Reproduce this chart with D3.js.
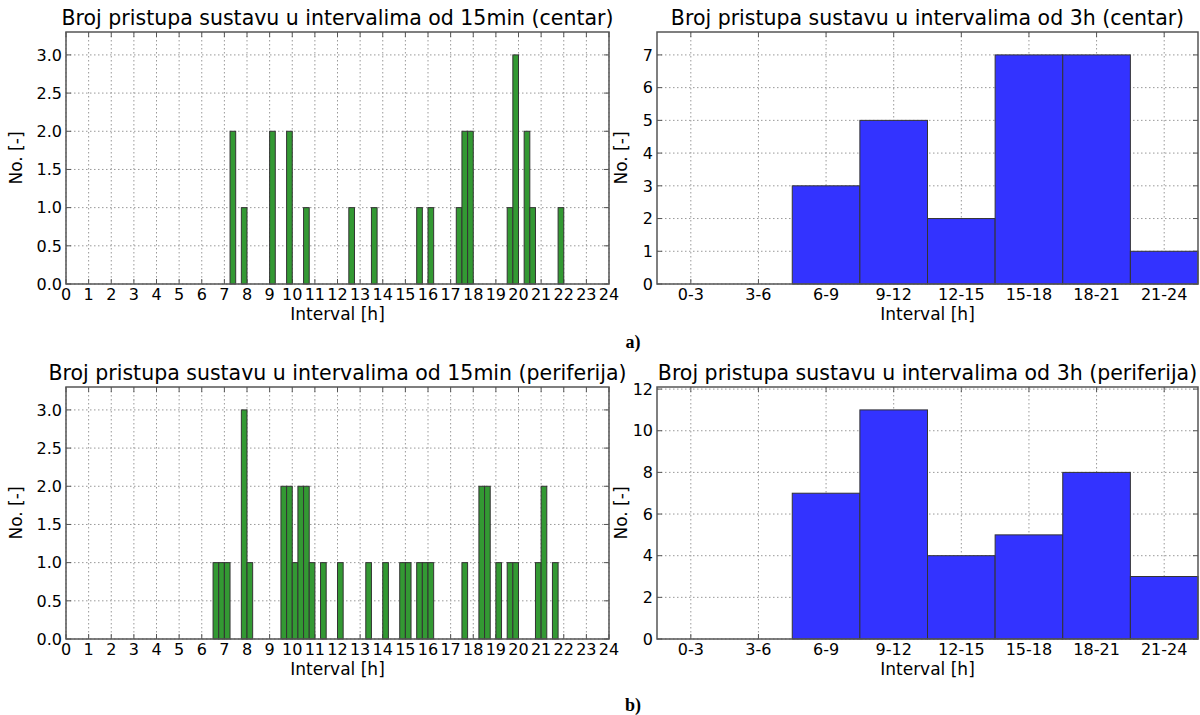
<!DOCTYPE html>
<html>
<head>
<meta charset="utf-8">
<script src="https://cdnjs.cloudflare.com/ajax/libs/d3/7.8.5/d3.min.js"></script>
<style>
  body { margin: 0; background: #fff; }
  svg { font-family: "DejaVu Sans", sans-serif; }
</style>
</head>
<body>
<div id="chart"></div>
<script>
// 15 min bins: start hour of the bin and the count in it (empty bins left out)
var centarStarts = [7.25, 7.75, 9.0, 9.75, 10.5, 12.5, 13.5, 15.5, 16.0, 17.25, 17.5, 17.75, 19.5, 19.75, 20.25, 20.5, 21.75];
var centarCounts = [2, 1, 2, 2, 1, 1, 1, 1, 1, 1, 2, 2, 1, 3, 2, 1, 1];

var periferijaStarts = [6.5, 6.75, 7.0, 7.75, 8.0, 9.5, 9.75, 10.0, 10.25, 10.5, 10.75, 11.25,
  12.0, 13.25, 14.0, 14.75, 15.0, 15.5, 15.75, 16.0, 17.5, 18.25, 18.5, 19.0, 19.5, 19.75, 20.75, 21.0, 21.5];
var periferijaCounts = [1, 1, 1, 3, 1, 2, 2, 1, 2, 2, 1, 1,
  1, 1, 1, 1, 1, 1, 1, 1, 1, 2, 2, 1, 1, 1, 1, 2, 1];

// 3h intervals
var intervals3h = ["0-3", "3-6", "6-9", "9-12", "12-15", "15-18", "18-21", "21-24"];
var centar3h = [0, 0, 3, 5, 2, 7, 7, 1];
var periferija3h = [0, 0, 7, 11, 4, 5, 8, 3];

var hourTicks = d3.range(0, 25);

var svg = d3.select("#chart").append("svg")
  .attr("width", 1200)
  .attr("height", 715);

var gridColor = "#999";
var frameColor = "#555";
var tickSize = "16px";

function frame(g, w, h) {
  g.append("rect")
    .attr("width", w)
    .attr("height", h)
    .attr("fill", "none")
    .attr("stroke", frameColor)
    .attr("stroke-width", 1.5);
}

function yGridAndTicks(g, y, ticks, w, fmt) {
  g.selectAll(".ygrid")
    .data(ticks)
    .enter().append("line")
    .attr("x1", 0).attr("x2", w)
    .attr("y1", function(d) { return y(d); })
    .attr("y2", function(d) { return y(d); })
    .attr("stroke", gridColor)
    .attr("stroke-dasharray", "1.5,2.5");
  // inward ticks on both sides
  g.selectAll(".ytickl")
    .data(ticks)
    .enter().append("line")
    .attr("x1", 0).attr("x2", 5)
    .attr("y1", function(d) { return y(d); })
    .attr("y2", function(d) { return y(d); })
    .attr("stroke", frameColor);
  g.selectAll(".ytickr")
    .data(ticks)
    .enter().append("line")
    .attr("x1", w - 5).attr("x2", w)
    .attr("y1", function(d) { return y(d); })
    .attr("y2", function(d) { return y(d); })
    .attr("stroke", frameColor);
  g.selectAll(".ylab")
    .data(ticks)
    .enter().append("text")
    .attr("x", -4)
    .attr("y", function(d) { return y(d); })
    .attr("dy", "0.36em")
    .attr("text-anchor", "end")
    .attr("font-size", tickSize)
    .text(fmt);
}

function xGridAndTicks(g, positions, labels, h) {
  g.selectAll(".xgrid")
    .data(positions)
    .enter().append("line")
    .attr("x1", function(d) { return d; })
    .attr("x2", function(d) { return d; })
    .attr("y1", 0).attr("y2", h)
    .attr("stroke", gridColor)
    .attr("stroke-dasharray", "1.5,2.5");
  g.selectAll(".xtickb")
    .data(positions)
    .enter().append("line")
    .attr("x1", function(d) { return d; })
    .attr("x2", function(d) { return d; })
    .attr("y1", h - 5).attr("y2", h)
    .attr("stroke", frameColor);
  g.selectAll(".xtickt")
    .data(positions)
    .enter().append("line")
    .attr("x1", function(d) { return d; })
    .attr("x2", function(d) { return d; })
    .attr("y1", 0).attr("y2", 5)
    .attr("stroke", frameColor);
  g.selectAll(".xlab")
    .data(positions)
    .enter().append("text")
    .attr("x", function(d) { return d; })
    .attr("y", h + 16)
    .attr("text-anchor", "middle")
    .attr("font-size", tickSize)
    .text(function(d, i) { return labels[i]; });
}

function labels(g, w, h, title, ylabX) {
  g.append("text")
    .attr("x", w / 2)
    .attr("y", -7)
    .attr("text-anchor", "middle")
    .attr("font-size", "20.5px")
    .text(title);
  g.append("text")
    .attr("x", w / 2)
    .attr("y", h + 36)
    .attr("text-anchor", "middle")
    .attr("font-size", "17px")
    .text("Interval [h]");
  g.append("text")
    .attr("transform", "translate(" + ylabX + "," + (h / 2) + ") rotate(-90)")
    .attr("text-anchor", "middle")
    .attr("font-size", "17px")
    .text("No. [-]");
}

function draw15(left, top, starts, counts, title) {
  var w = 543, h = 252;
  var g = svg.append("g").attr("transform", "translate(" + left + "," + top + ")");

  var x = d3.scaleLinear().domain([0, 24]).range([0, w]);
  var y = d3.scaleLinear().domain([0, d3.max(counts) * 1.1]).range([h, 0]);

  xGridAndTicks(g, hourTicks.map(function(d) { return x(d); }), hourTicks, h);
  yGridAndTicks(g, y, d3.range(0, 3.01, 0.5), w, d3.format(".1f"));

  g.selectAll(".bar")
    .data(starts)
    .enter().append("rect")
    .attr("x", function(d) { return x(d); })
    .attr("y", function(d, i) { return y(counts[i]); })
    .attr("width", function(d) { return x(d + 0.25) - x(d); })
    .attr("height", function(d, i) { return y(0) - y(counts[i]); })
    .attr("fill", "#339933")
    .attr("stroke", "#333")
    .attr("stroke-width", 1);

  frame(g, w, h);
  labels(g, w, h, title, -44);
}

function draw3h(left, top, values, yTicks, title) {
  var w = 541, h = 252;
  var g = svg.append("g").attr("transform", "translate(" + left + "," + top + ")");

  var x = d3.scaleBand().domain(intervals3h).range([0, w]).padding(0);
  var y = d3.scaleLinear().domain([0, d3.max(values) * 1.1]).range([h, 0]);

  xGridAndTicks(g, intervals3h.map(function(d) { return x(d) + x.bandwidth() / 2; }), intervals3h, h);
  yGridAndTicks(g, y, yTicks, w, d3.format("d"));

  g.selectAll(".bar")
    .data(values)
    .enter().append("rect")
    .attr("x", function(d, i) { return x(intervals3h[i]); })
    .attr("y", function(d) { return y(d); })
    .attr("width", x.bandwidth())
    .attr("height", function(d) { return y(0) - y(d); })
    .attr("fill", "#3333ff")
    .attr("stroke", "#333")
    .attr("stroke-width", 1)
    .style("display", function(d) { return d > 0 ? null : "none"; });

  frame(g, w, h);
  labels(g, w, h, title, -30);
}

draw15(66, 32, centarStarts, centarCounts, "Broj pristupa sustavu u intervalima od 15min (centar)");
draw3h(657, 32, centar3h, d3.range(0, 8), "Broj pristupa sustavu u intervalima od 3h (centar)");
draw15(66, 387, periferijaStarts, periferijaCounts, "Broj pristupa sustavu u intervalima od 15min (periferija)");
draw3h(657, 387, periferija3h, d3.range(0, 13, 2), "Broj pristupa sustavu u intervalima od 3h (periferija)");

svg.append("text")
  .attr("x", 633).attr("y", 348)
  .attr("text-anchor", "middle")
  .attr("font-family", "'Liberation Serif', serif")
  .attr("font-weight", "bold")
  .attr("font-size", "18px")
  .text("a)");
svg.append("text")
  .attr("x", 633).attr("y", 711)
  .attr("text-anchor", "middle")
  .attr("font-family", "'Liberation Serif', serif")
  .attr("font-weight", "bold")
  .attr("font-size", "18px")
  .text("b)");
</script>
</body>
</html>
